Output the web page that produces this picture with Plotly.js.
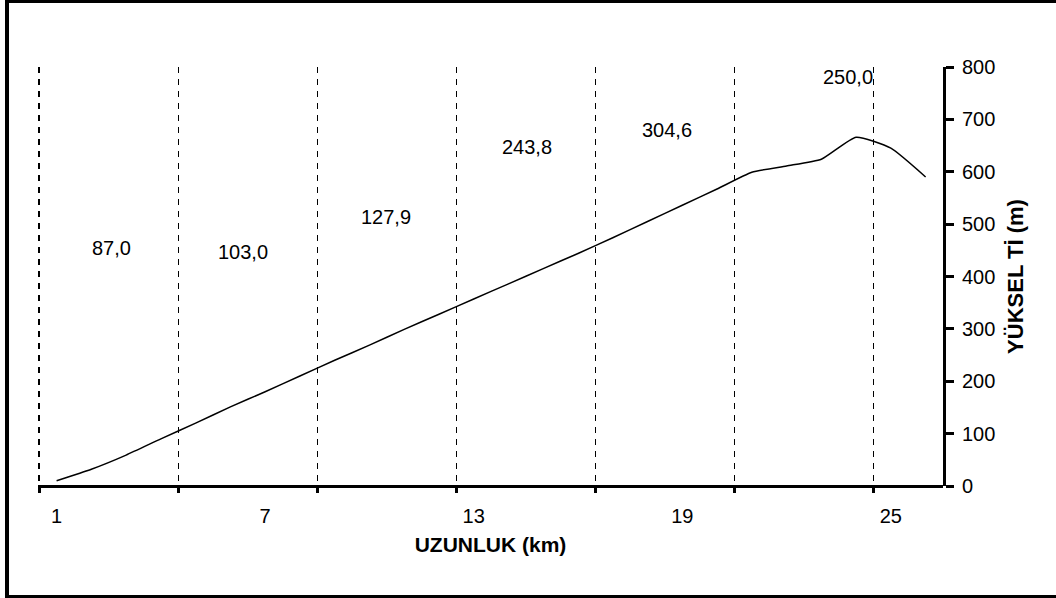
<!DOCTYPE html>
<html><head><meta charset="utf-8">
<script src="https://cdn.plot.ly/plotly-3.0.1.min.js"></script>
<style>
html,body{margin:0;padding:0;background:#fff;}
#wrap{position:relative;width:1056px;height:598px;overflow:hidden;}
#chart{position:absolute;left:0;top:0;width:1056px;height:598px;}
.frame{position:absolute;background:#000;}
</style></head><body>
<div id="wrap"><div id="chart"></div>
<div class="frame" style="left:5px;top:0;width:4px;height:598px"></div>
<div class="frame" style="left:5px;top:0;width:1051px;height:3px"></div>
<div class="frame" style="left:5px;top:595px;width:1051px;height:3px"></div>
</div>
<script>
// distance categories (km)
const km = [1,2,3,4,5,6,7,8,9,10,11,12,13,14,15,16,17,18,19,20,21,22,23,24,25,26];
// elevation (m)
const elevation = [10,32,59,90,120,151,180,210,240,269,299,328,357,386,415,444,474,505,536,567,599,611,624,666,645,590];
// x tick labels
const tickKm = [1,7,13,19,25];
const tickText = ['1','7','13','19','25'];
// segment boundaries (dashed lines)
const segmentBounds = [0.5,4.5,8.5,12.5,16.5,20.5,24.5];
// segment labels
const segmentLabels = ['87,0','103,0','127,9','243,8','304,6','250,0'];
const labelX = [2.57,6.35,10.49,14.52,18.55,23.77];
const labelY = [454,447,513,647,679,780];

const FONT = 'Liberation Sans, Arial, sans-serif';

const trace = {
  x: km, y: elevation, type: 'scatter', mode: 'lines',
  xaxis: 'x2', yaxis: 'y',
  line: {color: '#000', width: 1.5, shape: 'spline', smoothing: 0.5},
  hoverinfo: 'skip'
};

const annotations = segmentLabels.map((t, i) => ({
  x: labelX[i], y: labelY[i], xref: 'x', yref: 'y', text: t, showarrow: false,
  font: {family: FONT, size: 20, color: '#000'}, xanchor: 'center', yanchor: 'middle'
}));

const X_RANGE = [0.465, 26.5];

const layout = {
  width: 1056, height: 598,
  margin: {l: 38, r: 113, t: 67, b: 112},
  paper_bgcolor: '#fff', plot_bgcolor: '#fff',
  showlegend: false,
  font: {family: FONT, size: 20, color: '#000'},
  xaxis: {
    range: X_RANGE, tickmode: 'array', tickvals: tickKm, ticktext: tickText,
    ticks: '', showgrid: false, zeroline: false,
    showline: false,
    ticklabelstandoff: 16,
    tickfont: {family: FONT, size: 20, color: '#000'},
    title: {text: '<b>UZUNLUK (km)</b>', font: {family: FONT, size: 21, color: '#000'}, standoff: 11},
    automargin: false
  },
  xaxis2: {
    overlaying: 'x', matches: 'x', anchor: 'y', side: 'bottom',
    range: X_RANGE, tickmode: 'array', tickvals: segmentBounds,
    ticks: 'outside', ticklen: 6, tickwidth: 3, tickcolor: '#000',
    showticklabels: false, showline: false, zeroline: false,
    showgrid: true, gridcolor: '#000', gridwidth: 1.5, griddash: '6px,6px'
  },
  yaxis: {
    range: [0, 800], side: 'right', anchor: 'x', dtick: 100, tick0: 0,
    ticks: 'outside', ticklen: 8, tickwidth: 3, tickcolor: '#000',
    showline: true, linecolor: '#000', linewidth: 3,
    showgrid: false, zeroline: true, zerolinecolor: '#000', zerolinewidth: 3,
    ticklabelstandoff: 4,
    tickfont: {family: FONT, size: 20, color: '#000'},
    title: {text: '<b>YÜKSEL Tİ (m)</b>', font: {family: FONT, size: 22, color: '#000'}, standoff: 14},
    automargin: false
  },
  annotations: annotations
};

Plotly.newPlot('chart', [trace], layout, {displayModeBar: false, staticPlot: true});
</script>
</body></html>
